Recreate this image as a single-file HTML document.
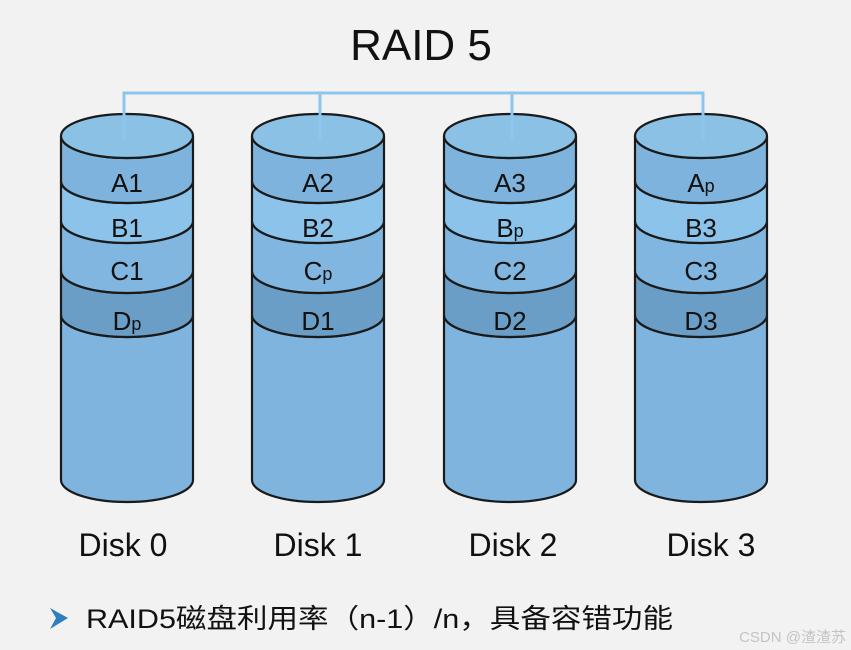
<!DOCTYPE html>
<html><head><meta charset="utf-8"><style>
html,body{margin:0;padding:0;background:#f2f2f2;}
svg{display:block;}
text{font-family:"Liberation Sans","Noto Sans CJK SC",sans-serif;}
</style></head><body>
<svg width="851" height="650" viewBox="0 0 851 650" xmlns="http://www.w3.org/2000/svg">
<rect width="851" height="650" fill="#f2f2f2"/>
<defs>
<g id="cyl" stroke="#1a1a1a" stroke-width="2.2">
  <path d="M-66,315 A66,22 0 0 0 66,315 L66,480 A66,22 0 0 1 -66,480 Z" fill="#7eb4de"/>
  <path d="M-66,271 A66,22 0 0 0 66,271 L66,315 A66,22 0 0 1 -66,315 Z" fill="#6b9ec6"/>
  <path d="M-66,221 A66,22 0 0 0 66,221 L66,271 A66,22 0 0 1 -66,271 Z" fill="#80b6df"/>
  <path d="M-66,181 A66,22 0 0 0 66,181 L66,221 A66,22 0 0 1 -66,221 Z" fill="#8cc3ea"/>
  <path d="M-66,136 A66,22 0 0 0 66,136 L66,181 A66,22 0 0 1 -66,181 Z" fill="#7db3dc"/>
  <ellipse cx="0" cy="136" rx="66" ry="22" fill="#8cc1e6"/>
</g>
</defs>
<text x="421" y="60" font-size="44" text-anchor="middle" fill="#111">RAID 5</text>
<use href="#cyl" x="127" y="0"/>
<use href="#cyl" x="318" y="0"/>
<use href="#cyl" x="510" y="0"/>
<use href="#cyl" x="701" y="0"/>
<g stroke="#8cc6ee" stroke-width="3" fill="none">
  <path d="M124,141 V93 H703 V141"/>
  <path d="M320,93 V141 M512,93 V141"/>
</g>
<g font-size="26" fill="#111" text-anchor="middle">
  <text x="127" y="192">A1</text>
  <text x="127" y="237">B1</text>
  <text x="127" y="280">C1</text>
  <text x="127" y="330">D<tspan font-size="18">p</tspan></text>
  <text x="318" y="192">A2</text>
  <text x="318" y="237">B2</text>
  <text x="318" y="280">C<tspan font-size="18">p</tspan></text>
  <text x="318" y="330">D1</text>
  <text x="510" y="192">A3</text>
  <text x="510" y="237">B<tspan font-size="18">p</tspan></text>
  <text x="510" y="280">C2</text>
  <text x="510" y="330">D2</text>
  <text x="701" y="192">A<tspan font-size="18">p</tspan></text>
  <text x="701" y="237">B3</text>
  <text x="701" y="280">C3</text>
  <text x="701" y="330">D3</text>
</g>
<g font-size="32" fill="#111" text-anchor="middle">
  <text x="123" y="556">Disk 0</text>
  <text x="318" y="556">Disk 1</text>
  <text x="513" y="556">Disk 2</text>
  <text x="711" y="556">Disk 3</text>
</g>
<path d="M50,608 L68,618 L50,629 L56,618 Z" fill="#2f7fc0"/>
<text x="86" y="628" font-size="27" fill="#111" textLength="587" lengthAdjust="spacingAndGlyphs">RAID5磁盘利用率（n-1）/n，具备容错功能</text>
<text x="846" y="642" font-size="15" fill="#c4c4c4" text-anchor="end">CSDN @渣渣苏</text>
</svg>
</body></html>
